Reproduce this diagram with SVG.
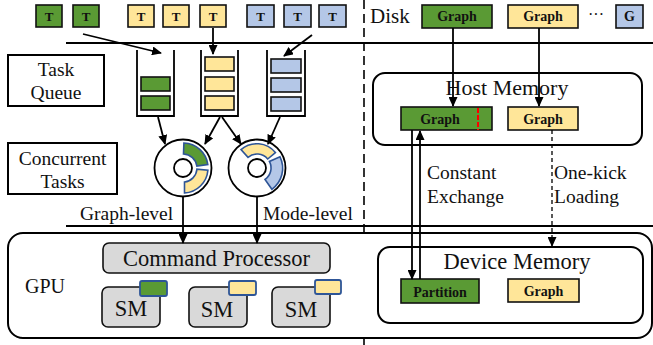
<svg xmlns="http://www.w3.org/2000/svg" width="653" height="345" viewBox="0 0 653 345">
  <defs>
    <marker id="arrow" markerUnits="userSpaceOnUse" markerWidth="10" markerHeight="9" refX="9" refY="4.5" orient="auto">
      <path d="M0,0 L10,4.5 L0,9 Z" fill="#000"/>
    </marker>
    <style>
      text { font-family: "Liberation Serif", "Times New Roman", serif; fill: #111; }
      .lbl { font-size: 19.5px; }
      .big { font-size: 22.5px; }
      .tag { font-size: 13px; font-weight: bold; text-anchor: middle; }
      .gl { font-size: 14px; font-weight: bold; text-anchor: middle; }
      .mid { text-anchor: middle; }
      .box { fill: #fff; stroke: #000; stroke-width: 2; }
      .g { fill: #5a9a34; stroke: #111; stroke-width: 1.6; }
      .y { fill: #ffe699; stroke: #111; stroke-width: 1.6; }
      .b { fill: #b4c7e7; stroke: #111; stroke-width: 1.6; }
      .gray { fill: #d9d9d9; stroke: #111; stroke-width: 1.6; }
      .wire { fill: none; stroke: #000; stroke-width: 1.8; }
      .rule { stroke: #000; stroke-width: 2; }
      .arc { stroke: #2e5597; stroke-width: 1.6; }
    </style>
  </defs>

  <!-- frame rules -->
  <line class="rule" x1="66" y1="43" x2="653" y2="43"/>
  <line class="rule" x1="66" y1="226" x2="653" y2="226"/>
  <line x1="364" y1="0" x2="364" y2="345" stroke="#000" stroke-width="1.6" stroke-dasharray="9 5"/>

  <!-- incoming tasks -->
  <g id="tasks">
    <rect class="g" x="36" y="5" width="26" height="22"/><text class="tag" x="49" y="21">T</text>
    <rect class="g" x="73" y="5" width="26" height="22"/><text class="tag" x="86" y="21">T</text>
    <rect class="y" x="128" y="5" width="26" height="22"/><text class="tag" x="141" y="21">T</text>
    <rect class="y" x="163" y="5" width="26" height="22"/><text class="tag" x="176" y="21">T</text>
    <rect class="y" x="200" y="5" width="26" height="22"/><text class="tag" x="213" y="21">T</text>
    <rect class="b" x="247" y="5" width="27" height="22"/><text class="tag" x="260.5" y="21">T</text>
    <rect class="b" x="284" y="5" width="27" height="22"/><text class="tag" x="297.5" y="21">T</text>
    <rect class="b" x="319" y="5" width="27" height="22"/><text class="tag" x="332.5" y="21">T</text>
  </g>

  <!-- row labels -->
  <g id="task-queue-label">
    <rect class="box" x="8" y="55" width="96" height="51"/>
    <text class="lbl mid" x="56" y="76">Task</text>
    <text class="lbl mid" x="56" y="99">Queue</text>
  </g>
  <g id="concurrent-label">
    <rect class="box" x="8" y="143" width="109" height="51"/>
    <text class="lbl mid" x="62.5" y="165">Concurrent</text>
    <text class="lbl mid" x="62.5" y="188">Tasks</text>
  </g>

  <!-- queues -->
  <g id="queue-green">
    <path class="wire" d="M137,50 V116 H174 V50" stroke-width="2.2"/>
    <rect class="g" x="141" y="77" width="29" height="14"/>
    <rect class="g" x="141" y="96" width="29" height="14"/>
  </g>
  <g id="queue-yellow">
    <path class="wire" d="M201,50 V116 H238 V50" stroke-width="2.2"/>
    <rect class="y" x="205" y="57" width="29" height="14"/>
    <rect class="y" x="205" y="77" width="29" height="14"/>
    <rect class="y" x="205" y="96" width="29" height="14"/>
  </g>
  <g id="queue-blue">
    <path class="wire" d="M267,50 V116 H305 V50" stroke-width="2.2"/>
    <rect class="b" x="271" y="59" width="30" height="14"/>
    <rect class="b" x="271" y="78" width="30" height="14"/>
    <rect class="b" x="271" y="97" width="30" height="14"/>
  </g>

  <!-- concurrent task rings -->
  <g id="ring-graph">
    <circle cx="183" cy="168" r="28.5" fill="#fff" stroke="#000" stroke-width="1.8"/>
    <circle cx="183" cy="168" r="9" fill="#fff" stroke="#000" stroke-width="1.8"/>
    <path class="arc" fill="#5a9a34" d="M183.9,143 A25,25 0 0 1 207.8,164.5 L196.9,166.1 A14,14 0 0 0 183.5,154 Z"/>
    <path class="arc" fill="#ffe699" d="M207.9,170.2 A25,25 0 0 1 184.5,193 L184.5,182 A14,14 0 0 0 196.9,169.2 Z"/>
  </g>
  <g id="ring-mode">
    <circle cx="257" cy="168" r="28.5" fill="#fff" stroke="#000" stroke-width="1.8"/>
    <circle cx="257" cy="168" r="9" fill="#fff" stroke="#000" stroke-width="1.8"/>
    <path class="arc" fill="#ffe699" d="M241,149.6 A24,24 0 0 1 275.4,152.6 L267.7,159 A14,14 0 0 0 248,157.3 Z"/>
    <path class="arc" fill="#b4c7e7" d="M280,156.8 A26,26 0 0 1 271.9,189.3 L265,179.5 A14,14 0 0 0 269.4,161.4 Z"/>
  </g>

  <!-- GPU -->
  <g id="gpu">
    <rect class="box" x="8" y="233" width="644" height="105" rx="15"/>
    <text x="25" y="293" style="font-size:20px">GPU</text>
  </g>
  <g id="command-processor">
    <rect class="gray" x="103" y="243" width="227" height="30" rx="6"/>
    <text class="big mid" x="216.5" y="266">Command Processor</text>
  </g>
  <g id="sm-1">
    <rect class="gray" x="102" y="287" width="58" height="40" rx="6"/>
    <text class="big mid" x="131" y="316">SM</text>
    <rect fill="#5a9a34" stroke="#2e5597" stroke-width="1.8" x="140" y="281" width="27" height="15" rx="2"/>
  </g>
  <g id="sm-2">
    <rect class="gray" x="189" y="287" width="58" height="40" rx="6"/>
    <text class="big mid" x="217" y="317">SM</text>
    <rect fill="#ffe699" stroke="#2e5597" stroke-width="1.8" x="229" y="281" width="27" height="14" rx="2"/>
  </g>
  <g id="sm-3">
    <rect class="gray" x="272" y="287" width="58" height="40" rx="6"/>
    <text class="big mid" x="301" y="317">SM</text>
    <rect fill="#ffe699" stroke="#2e5597" stroke-width="1.8" x="315" y="280" width="26" height="14" rx="2"/>
  </g>

  <!-- storage side -->
  <g id="disk">
    <text x="370" y="23" style="font-size:21px">Disk</text>
    <rect class="g" x="422" y="5" width="70" height="23"/><text class="gl" x="457" y="21">Graph</text>
    <rect class="y" x="508" y="5" width="70" height="23"/><text class="gl" x="543" y="21">Graph</text>
    <text x="596" y="20" style="font-size:16px" text-anchor="middle">···</text>
    <rect class="b" x="616" y="5" width="27" height="23"/><text class="gl" x="629.5" y="21">G</text>
  </g>
  <g id="host-memory">
    <rect class="box" x="373" y="73" width="269" height="72" rx="12"/>
    <text class="mid" x="507" y="95" style="font-size:22px">Host Memory</text>
    <rect class="g" x="401" y="107" width="91" height="23"/><text class="gl" x="440" y="124">Graph</text>
    <line x1="478" y1="108" x2="478" y2="130" stroke="#ff0000" stroke-width="2" stroke-dasharray="5 2"/>
    <rect class="y" x="508" y="107" width="70" height="23"/><text class="gl" x="543" y="124">Graph</text>
  </g>
  <g id="device-memory">
    <rect class="box" x="378" y="247" width="265" height="76" rx="12"/>
    <text class="big mid" x="517" y="269">Device Memory</text>
    <rect class="g" x="401" y="279" width="78" height="24"/><text class="gl" x="440" y="297">Partition</text>
    <rect class="y" x="508" y="279" width="71" height="23"/><text class="gl" x="543.5" y="296">Graph</text>
  </g>

  <!-- connector labels -->
  <g id="labels">
    <text class="lbl" x="80" y="220">Graph-level</text>
    <text class="lbl" x="263" y="220">Mode-level</text>
    <text class="lbl" x="427" y="179">Constant</text>
    <text class="lbl" x="427" y="203">Exchange</text>
    <text class="lbl" x="554" y="179">One-kick</text>
    <text class="lbl" x="554" y="203">Loading</text>
  </g>

  <!-- connectors -->
  <g id="connectors" class="wire">
    <line x1="83" y1="34" x2="161" y2="53" marker-end="url(#arrow)"/>
    <line x1="213" y1="28" x2="213" y2="54" marker-end="url(#arrow)"/>
    <line x1="312" y1="35" x2="284" y2="56" marker-end="url(#arrow)"/>
    <line x1="158" y1="117" x2="165" y2="144" marker-end="url(#arrow)"/>
    <line x1="220" y1="117" x2="205" y2="144" marker-end="url(#arrow)"/>
    <line x1="222" y1="117" x2="241" y2="144" marker-end="url(#arrow)"/>
    <line x1="280" y1="117" x2="268" y2="144" marker-end="url(#arrow)"/>
    <line x1="183" y1="197" x2="183" y2="243" marker-end="url(#arrow)"/>
    <line x1="257" y1="197" x2="257" y2="243" marker-end="url(#arrow)"/>
    <line x1="453" y1="28" x2="453" y2="106" marker-end="url(#arrow)"/>
    <line x1="539" y1="28" x2="539" y2="106" marker-end="url(#arrow)"/>
    <line x1="412" y1="130" x2="412" y2="279" marker-end="url(#arrow)"/>
    <line x1="420" y1="279" x2="420" y2="131" marker-end="url(#arrow)"/>
    <line x1="552" y1="130" x2="552" y2="246" stroke-width="1.3" stroke-dasharray="4 3" marker-end="url(#arrow)"/>
  </g>
</svg>
